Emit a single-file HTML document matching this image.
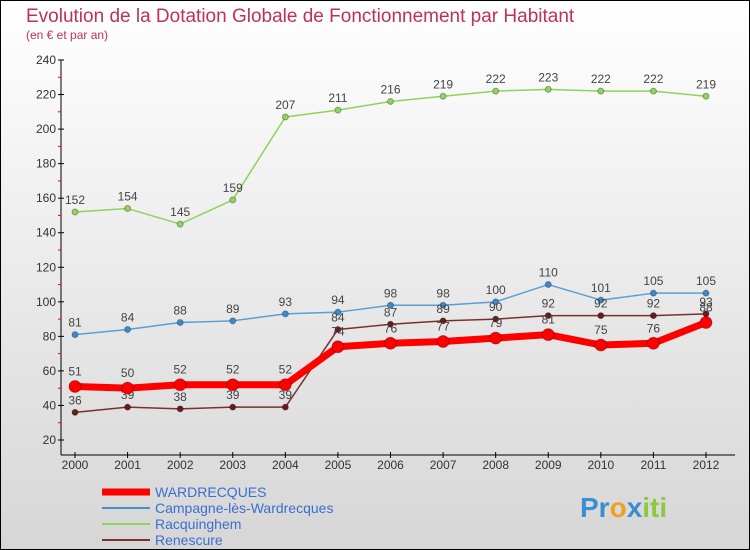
<!DOCTYPE html>
<html><head><meta charset="utf-8"><style>
body{margin:0}
svg{display:block;font-family:"Liberation Sans",sans-serif}
</style></head><body>
<svg id="c" width="750" height="550">
<defs><linearGradient id="bg" x1="0" y1="0" x2="0" y2="1"><stop offset="0" stop-color="#ffffff"/><stop offset="1" stop-color="#d6d6d6"/></linearGradient></defs>
<rect x="0.5" y="0.5" width="749" height="549" fill="url(#bg)" stroke="#000"/>
<text x="26" y="22" font-size="19" fill="#c0305a">Evolution de la Dotation Globale de Fonctionnement par Habitant</text>
<text x="26" y="39" font-size="12" fill="#c0305a">(en € et par an)</text>
<g id="axes"></g><g id="series"></g>
<g>
<line x1="102" y1="492" x2="150" y2="492" stroke="#f00" stroke-width="7"/>
<text x="155" y="497" font-size="14" fill="#3a6fd0">WARDRECQUES</text>
<line x1="102" y1="508" x2="150" y2="508" stroke="#4a90c8" stroke-width="2"/>
<text x="155" y="513" font-size="14" fill="#3a6fd0">Campagne-lès-Wardrecques</text>
<line x1="102" y1="524" x2="150" y2="524" stroke="#8fd35a" stroke-width="2"/>
<text x="155" y="529" font-size="14" fill="#3a6fd0">Racquinghem</text>
<line x1="102" y1="540" x2="150" y2="540" stroke="#7a3030" stroke-width="2"/>
<text x="155" y="545" font-size="14" fill="#3a6fd0">Renescure</text>
</g>
<g font-size="28" font-weight="bold">
<text x="580" y="517"><tspan fill="#3b8fd0">Pr</tspan><tspan fill="#f0a020">o</tspan><tspan fill="#3b8fd0">x</tspan><tspan fill="#8cc840">iti</tspan></text>
</g>
</svg>
<script>
const years=["2000","2001","2002","2003","2004","2005","2006","2007","2008","2009","2010","2011","2012"];
const yTicks=[20,40,60,80,100,120,140,160,180,200,220,240];
const wardrecques=[51,50,52,52,52,74,76,77,79,81,75,76,88];
const campagne=[81,84,88,89,93,94,98,98,100,110,101,105,105];
const racquinghem=[152,154,145,159,207,211,216,219,222,223,222,222,219];
const renescure=[36,39,38,39,39,84,87,89,90,92,92,92,93];
const NS="http://www.w3.org/2000/svg";
const X=i=>75+i*(706-75)/12;
const Y=v=>440-(v-20)*(380/220);
function mk(t,a,p){const e=document.createElementNS(NS,t);for(const k in a)e.setAttribute(k,a[k]);p.appendChild(e);return e;}
const ax=document.getElementById('axes');
const yl=mk('line',{x1:61,y1:Y(240),x2:61,y2:455,stroke:'#000'},ax);


const xl=mk('line',{x1:61,y1:455,x2:735,y2:455,stroke:'#000'},ax);


yTicks.forEach((v,i)=>{
 mk('line',{x1:58,x2:64,y1:Y(v),y2:Y(v),stroke:'#000'},ax);
 if(i<yTicks.length-1)mk('line',{x1:58,x2:61,y1:Y(v+10),y2:Y(v+10),stroke:'#f00'},ax);
 const t=mk('text',{x:56,y:Y(v)+4,'font-size':12,'text-anchor':'end',fill:'#333'},ax);t.textContent=v;
 
 
});
years.forEach((y,i)=>{
 mk('line',{x1:X(i),x2:X(i),y1:452,y2:458,stroke:'#000'},ax);
 const t=mk('text',{x:X(i),y:469,'font-size':12,'text-anchor':'middle',fill:'#333'},ax);t.textContent=y;
 
 
});
const sg=document.getElementById('series');
function series(name,vals,color,w,r,dot){
 const g=mk('g',{},sg);
 
 
 mk('polyline',{points:vals.map((v,i)=>X(i)+','+Y(v)).join(' '),fill:'none',stroke:color,'stroke-width':w,'stroke-linejoin':'round'},g);
 vals.forEach((v,i)=>{
  const c=mk('circle',{cx:X(i),cy:Y(v),r:r,fill:dot,stroke:'rgba(0,0,0,0.3)'},g);
  
  
  const t=mk('text',{x:X(i),y:Y(v)-r-5,'font-size':12,'text-anchor':'middle',fill:'#444'},g);t.textContent=v;
 });
}
series('racquinghem',racquinghem,'#8fd35a',1.5,3,'#8fd35a');
series('campagne',campagne,'#5a9fd4',1.5,3,'#3b8ad0');
series('renescure',renescure,'#7a3030',1.5,3,'#6a1a1a');
series('wardrecques',wardrecques,'#f00',7,6,'#f00');
</script>
</body></html>
